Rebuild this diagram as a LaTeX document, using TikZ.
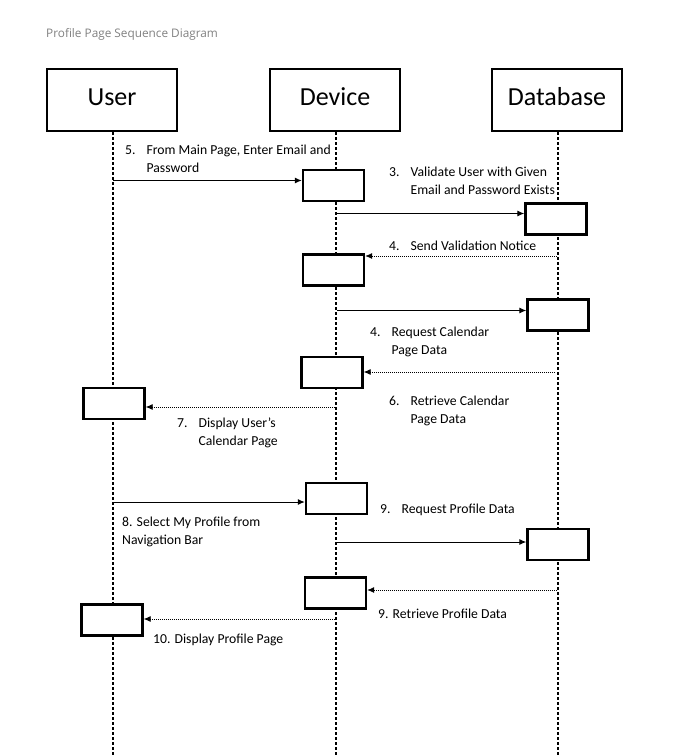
\documentclass[tikz,border=0pt]{standalone}
\usepackage{fontspec}
\setmainfont{Carlito}
\newfontfamily\titlefont{Open Sans}
\usetikzlibrary{arrows.meta}

\begin{document}
\begin{tikzpicture}[x=1pt,y=-1pt]

\tikzset{
  ActorStyle/.style = { rectangle, draw, line width = 2.2pt,
                        minimum width = 130pt, minimum height = 62pt,
                        text height = 18pt, text depth = 8pt,
                        font = \fontsize{26}{30}\selectfont },
  ActStyle/.style = { rectangle, draw, fill = white, line width = 2.4pt,
                      minimum width = 61pt, minimum height = 31pt },
  LifeStyle/.style = { line width = 2.6pt, dash pattern = on 2.6pt off 2.4pt },
  CallStyle/.style = { line width = 1pt, -{Latex[length=7pt,width=6pt]} },
  ReturnStyle/.style = { line width = 0.8pt, dash pattern = on 1pt off 1pt,
                         -{Latex[length=7pt,width=6pt]} },
  LabelStyle/.style = { anchor = base west, inner sep = 0pt,
                        font = \fontsize{13.7}{18}\selectfont } }

  \useasboundingbox (0,0) rectangle (673,755);

  \node[anchor=base west, inner sep=0pt, text=black!50,
        font=\titlefont\fontsize{11.8}{14}\selectfont] (title) at (46,37)
        {Profile Page Sequence Diagram};

  \node[ActorStyle] (user) at (112,100) {User};
  \node[ActorStyle] (dev)  at (335,100) {Device};
  \node[ActorStyle] (db)   at (557,100) {Database};

  % lifelines
  \coordinate (userend) at (113,755);
  \coordinate (devend)  at (336,755);
  \coordinate (dbend)   at (558,755);
  \draw[LifeStyle] (user.south -| userend) -- (userend);
  \draw[LifeStyle] (dev.south -| devend) -- (devend);
  \draw[LifeStyle] (db.south -| dbend) -- (dbend);

  % activation boxes
  \node[ActStyle] (d1) at (333.5,185.5) {};
  \node[ActStyle] (b1) at (556,219)   {};
  \node[ActStyle] (d2) at (333.5,270)   {};
  \node[ActStyle] (b2) at (558,315)   {};
  \node[ActStyle] (d3) at (332,372.5) {};
  \node[ActStyle] (u1) at (114,403.5) {};
  \node[ActStyle] (d4) at (336.5,498.5) {};
  \node[ActStyle] (b3) at (558,544.5) {};
  \node[ActStyle] (d5) at (335.5,593)   {};
  \node[ActStyle] (u2) at (112,620)   {};

  % messages
  \coordinate (m1) at (113,180.5);
  \coordinate (m2) at (337,213.5);
  \coordinate (m3) at (557,256);
  \coordinate (m4) at (337,310.5);
  \coordinate (m5) at (555,372);
  \coordinate (m6) at (335,407);
  \coordinate (m7) at (113,502);
  \coordinate (m8) at (337,542);
  \coordinate (m9) at (557,590);
  \coordinate (m10) at (335,619);

  \draw[CallStyle]   (m1) -- (m1 -| d1.west);
  \draw[CallStyle]   (m2) -- (m2 -| b1.west);
  \draw[ReturnStyle] (m3) -- (m3 -| d2.east);
  \draw[CallStyle]   (m4) -- (m4 -| b2.west);
  \draw[ReturnStyle] (m5) -- (m5 -| d3.east);
  \draw[ReturnStyle] (m6) -- (m6 -| u1.east);
  \draw[CallStyle]   (m7) -- (m7 -| d4.west);
  \draw[CallStyle]   (m8) -- (m8 -| b3.west);
  \draw[ReturnStyle] (m9) -- (m9 -| d5.east);
  \draw[ReturnStyle] (m10) -- (m10 -| u2.east);

  % labels
  \node[LabelStyle] (l1) at (125,154)
    {\begin{tabular}[t]{@{}l@{\hspace{11pt}}l@{}}5. & From Main Page, Enter Email and\\ & Password\end{tabular}};
  \node[LabelStyle] (l2) at (389,176)
    {\begin{tabular}[t]{@{}l@{\hspace{11pt}}l@{}}3. & Validate User with Given\\ & Email and Password Exists\end{tabular}};
  \node[LabelStyle] (l3) at (389,250)
    {\begin{tabular}[t]{@{}l@{\hspace{11pt}}l@{}}4. & Send Validation Notice\end{tabular}};
  \node[LabelStyle] (l4) at (370,336)
    {\begin{tabular}[t]{@{}l@{\hspace{11pt}}l@{}}4. & Request Calendar\\ & Page Data\end{tabular}};
  \node[LabelStyle] (l5) at (389,405)
    {\begin{tabular}[t]{@{}l@{\hspace{11pt}}l@{}}6. & Retrieve Calendar\\ & Page Data\end{tabular}};
  \node[LabelStyle] (l6) at (177,427)
    {\begin{tabular}[t]{@{}l@{\hspace{11pt}}l@{}}7. & Display User's\\ & Calendar Page\end{tabular}};
  \node[LabelStyle] (l7) at (380,513)
    {\begin{tabular}[t]{@{}l@{\hspace{11pt}}l@{}}9. & Request Profile Data\end{tabular}};
  \node[LabelStyle] (l8) at (122,526)
    {\begin{tabular}[t]{@{}l@{}}8. Select My Profile from\\Navigation Bar\end{tabular}};
  \node[LabelStyle] (l9) at (378,618) {9. Retrieve Profile Data};
  \node[LabelStyle] (l10) at (153,643) {10. Display Profile Page};

\end{tikzpicture}
\end{document}
